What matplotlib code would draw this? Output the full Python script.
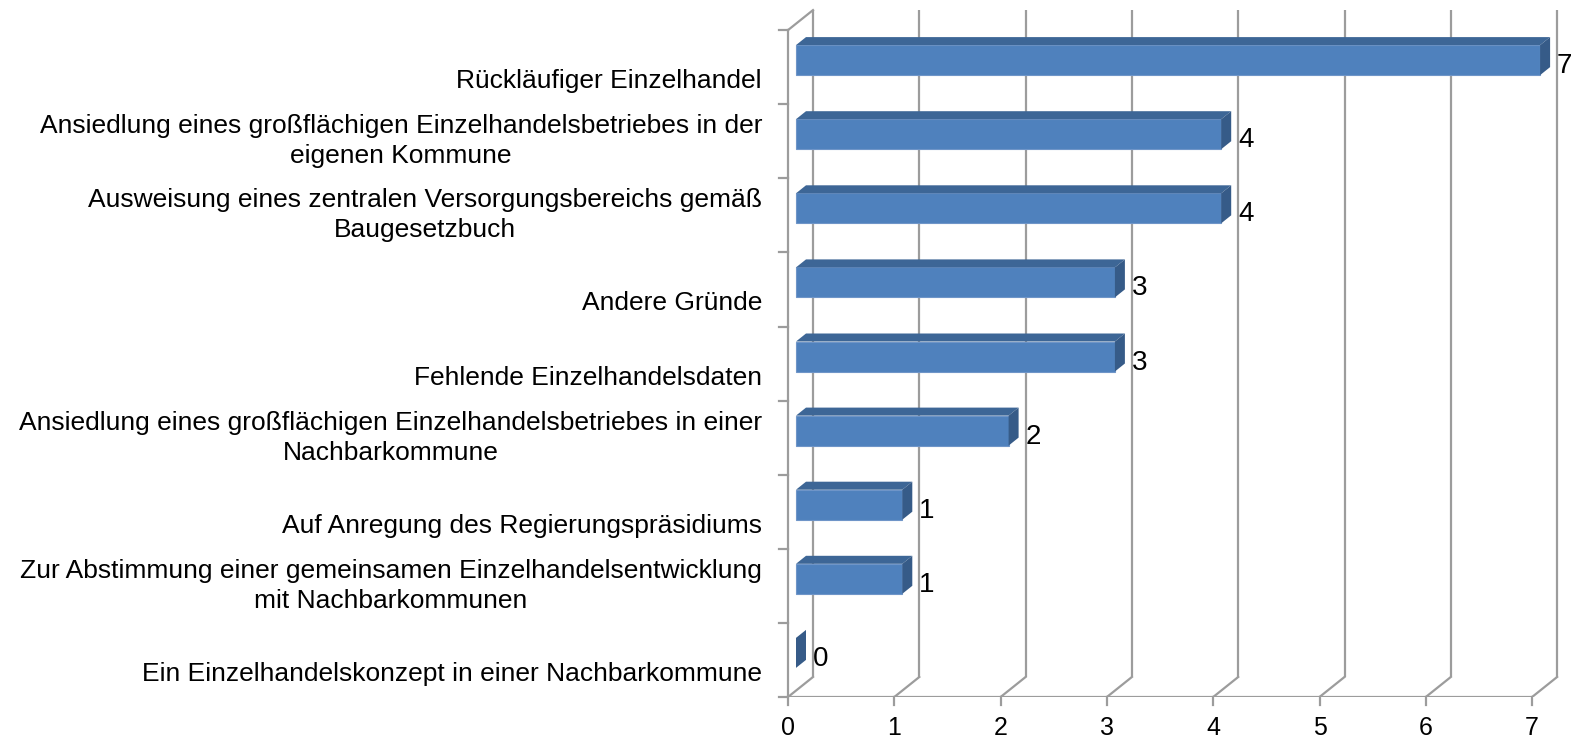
import matplotlib.pyplot as plt
from matplotlib.patches import Polygon

plt.rcParams['font.family'] = ['Liberation Sans', 'DejaVu Sans']

categories = [
    "Rückläufiger Einzelhandel",
    "Ansiedlung eines großflächigen Einzelhandelsbetriebes in der\neigenen Kommune",
    "Ausweisung eines zentralen Versorgungsbereichs gemäß\nBaugesetzbuch",
    "Andere Gründe",
    "Fehlende Einzelhandelsdaten",
    "Ansiedlung eines großflächigen Einzelhandelsbetriebes in einer\nNachbarkommune",
    "Auf Anregung des Regierungspräsidiums",
    "Zur Abstimmung einer gemeinsamen Einzelhandelsentwicklung\nmit Nachbarkommunen",
    "Ein Einzelhandelskonzept in einer Nachbarkommune",
]
values = [7, 4, 4, 3, 3, 2, 1, 1, 0]
xticks = [0, 1, 2, 3, 4, 5, 6, 7]

front_c = '#4F81BD'
top_c = '#3D6696'
side_c = '#365B88'
grid_c = '#9C9C9C'

fig = plt.figure(figsize=(15.72, 7.40), dpi=100)
ux, uy = 106.3, 74.1   # pixels per unit
ax = fig.add_axes([(788 - 0.1 * ux) / 1572, 43 / 740, 7.45 * ux / 1572, 9.35 * uy / 740])
ax.set_xlim(-0.1, 7.35)
ax.set_ylim(0, 9.35)
ax.axis('off')

n = len(categories)
DX, DY = 25 / ux, 20 / uy        # wall depth
lw = 1.6

# back wall grid + floor diagonals
for v in xticks:
    ax.plot([v + DX, v + DX], [DY, n + DY], color=grid_c, lw=lw, solid_capstyle='butt')
    ax.plot([v, v + DX], [0, DY], color=grid_c, lw=lw)
    ax.plot([v, v], [0, -8 / uy], color=grid_c, lw=lw, clip_on=False)
    ax.text(v, -31 / uy, str(v), ha='center', va='center', fontsize=18)
# left wall
ax.plot([0, 0], [0, n], color=grid_c, lw=lw)
ax.plot([0, DX], [n, n + DY], color=grid_c, lw=lw)
ax.plot([0, xticks[-1]], [0, 0], color=grid_c, lw=lw)
for k in range(n + 1):
    ax.plot([-9 / ux, 0], [k, k], color=grid_c, lw=lw, clip_on=False)

# bars
bx = 8 / ux
ddx, ddy = 10 / ux, 8 / uy
for i, (lab, v) in enumerate(zip(categories, values)):
    top = n - i
    y1 = top - 15 / uy
    y0 = top - 45 / uy
    x0, x1 = bx, bx + v
    if v > 0:
        ax.add_patch(Polygon([(x0, y0), (x1, y0), (x1, y1), (x0, y1)],
                             closed=True, fc=front_c, ec='#6F95C8', lw=0.8, zorder=3))
        ax.add_patch(Polygon([(x0, y1), (x1, y1), (x1 + ddx, y1 + ddy), (x0 + ddx, y1 + ddy)],
                             closed=True, fc=top_c, ec='none', zorder=3))
    ax.add_patch(Polygon([(x1, y0), (x1 + ddx, y0 + ddy), (x1 + ddx, y1 + ddy), (x1, y1)],
                         closed=True, fc=side_c, ec='none', zorder=3))
    ax.text(x1 + ddx + 7 / ux, (y0 + y1) / 2 - 6 / uy, str(v), ha='left', va='center',
            fontsize=20, zorder=4)
    ly = top - 0.5
    if '\n' not in lab:
        ly -= 14 / uy
    ax.text(-26 / ux, ly, lab, ha='right', va='center', multialignment='center',
            fontsize=19, linespacing=1.3, clip_on=False)

fig.savefig('out.png', dpi=100)
